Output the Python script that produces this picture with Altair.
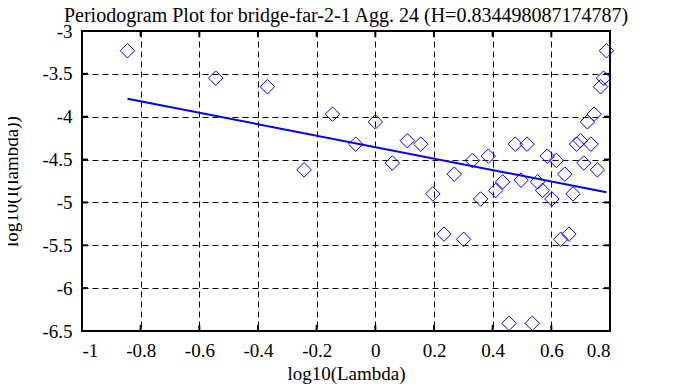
import altair as alt
import pandas as pd

# log10(Lambda) for each periodogram ordinate
x_vals = [-0.845, -0.544, -0.368, -0.243, -0.146, -0.067, 0.000, 0.058, 0.109, 0.155,
          0.196, 0.234, 0.269, 0.301, 0.331, 0.359, 0.385, 0.410, 0.434, 0.456,
          0.477, 0.497, 0.517, 0.535, 0.553, 0.570, 0.586, 0.602, 0.617, 0.632,
          0.646, 0.660, 0.674, 0.686, 0.699, 0.711, 0.723, 0.735, 0.746, 0.757,
          0.768, 0.778, 0.788]
# log10(I(lambda))
y_vals = [-3.23, -3.55, -3.65, -4.62, -3.97, -4.32, -4.06, -4.54, -4.28, -4.32,
          -4.90, -5.37, -4.67, -5.43, -4.51, -4.96, -4.46, -4.86, -4.76, -6.41,
          -4.32, -4.74, -4.32, -6.41, -4.76, -4.86, -4.46, -4.96, -4.51, -5.43,
          -4.67, -5.37, -4.90, -4.32, -4.28, -4.54, -4.06, -4.32, -3.97, -4.62,
          -3.65, -3.55, -3.23]
# fitted line end points
fit_x = [-0.845, 0.788]
fit_y = [-3.790, -4.882]

x_ticks = [-1, -0.8, -0.6, -0.4, -0.2, 0, 0.2, 0.4, 0.6, 0.8]
y_ticks = [-3, -3.5, -4, -4.5, -5, -5.5, -6, -6.5]
x_inner = x_ticks[1:-1]
y_inner = y_ticks[1:-1]

title_text = "Periodogram Plot for bridge-far-2-1 Agg. 24 (H=0.834498087174787)"

W, H = 528, 300
FONT = "Liberation Serif"
BLUE = "#0000ff"

pts = pd.DataFrame({"x": x_vals, "y": y_vals})
fit = pd.DataFrame({"x": fit_x, "y": fit_y})
xt = pd.DataFrame({"x": x_inner})
yt = pd.DataFrame({"y": y_inner})

xs = alt.Scale(domain=[-1, 0.8], nice=False, zero=False)
ys = alt.Scale(domain=[-6.5, -3], nice=False, zero=False)

axis_common = dict(
    grid=True, gridColor="black", gridDash=[6, 4], gridWidth=1, gridOpacity=1,
    domain=False, ticks=False, labelExpr="toString(datum.value)",
    labelFont=FONT, labelFontSize=19, labelColor="black",
    titleFont=FONT, titleFontSize=19, titleColor="black", titleFontWeight="normal",
)
x_axis = alt.Axis(values=x_ticks, title="log10(Lambda)", labelPadding=10,
                  titleY=48, titleBaseline="alphabetic", **axis_common)
y_axis = alt.Axis(values=y_ticks, title="log10(I(lambda))", labelPadding=10,
                  titleX=-80, titleY=150, titleBaseline="top", titleAngle=-90,
                  **axis_common)

X = lambda f: alt.X(f"{f}:Q", scale=xs, axis=x_axis, title="log10(Lambda)")
Y = lambda f: alt.Y(f"{f}:Q", scale=ys, axis=y_axis, title="log10(I(lambda))")

points = alt.Chart(pts).mark_point(
    shape="diamond", size=210, filled=False, color=BLUE, strokeWidth=1, opacity=1
).encode(x=X("x"), y=Y("y"))

line = alt.Chart(fit).mark_line(color=BLUE, strokeWidth=2).encode(x=X("x"), y=Y("y"))

tick_top = alt.Chart(xt).mark_rule(color="black", strokeWidth=2).encode(
    x=X("x"), y=alt.value(0), y2=alt.value(6))
tick_bot = alt.Chart(xt).mark_rule(color="black", strokeWidth=2).encode(
    x=X("x"), y=alt.value(H - 6), y2=alt.value(H))
tick_left = alt.Chart(yt).mark_rule(color="black", strokeWidth=2).encode(
    y=Y("y"), x=alt.value(0), x2=alt.value(6))
tick_right = alt.Chart(yt).mark_rule(color="black", strokeWidth=2).encode(
    y=Y("y"), x=alt.value(W - 6), x2=alt.value(W))

chart = alt.layer(points, line, tick_top, tick_bot, tick_left, tick_right).properties(
    width=W, height=H,
    title=alt.TitleParams(title_text, font=FONT, fontSize=20, fontWeight="normal",
                          color="black", anchor="middle", offset=-4),
    autosize=alt.AutoSizeParams(type="none"),
    padding={"left": 74, "top": 23, "right": 60, "bottom": 56},
    background="white",
).configure_view(stroke="black", strokeWidth=2
).configure_axis(labelFont=FONT, titleFont=FONT
).configure_title(font=FONT)

chart.save("out.html", embed_options={"renderer": "svg", "actions": False})
